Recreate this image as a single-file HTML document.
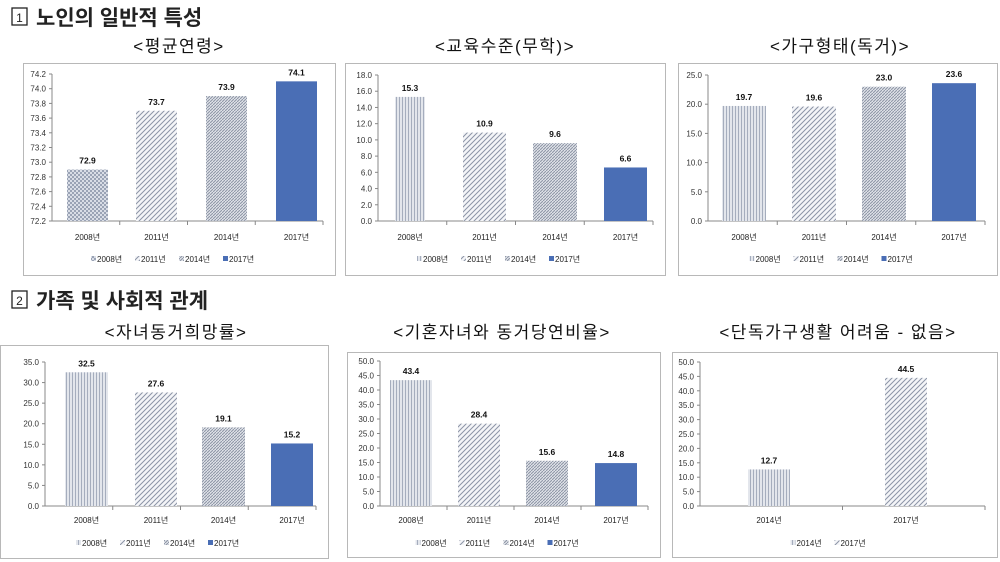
<!DOCTYPE html>
<html><head><meta charset="utf-8"><style>
body{margin:0;background:#fff;width:1000px;height:562px;overflow:hidden;font-family:"Liberation Sans","Noto Sans CJK KR",sans-serif}
svg{position:absolute;left:0;top:0}
</style></head><body>
<svg id="s" width="1000" height="562" xmlns="http://www.w3.org/2000/svg">
<defs>
<pattern id="p1" width="4" height="4" patternUnits="userSpaceOnUse"><rect width="4" height="4" fill="#d9dde6"/><rect width="2" height="2" fill="#9aa3b5"/><rect x="2" y="2" width="2" height="2" fill="#9aa3b5"/></pattern>
<pattern id="p2" width="5" height="5" patternUnits="userSpaceOnUse"><rect width="5" height="5" fill="#f4f5f8"/><path d="M-1,6 L6,-1 M-1,1 L1,-1 M4,6 L6,4" stroke="#8c94a6" stroke-width="1"/></pattern>
<pattern id="p3" width="3" height="3" patternUnits="userSpaceOnUse"><rect width="3" height="3" fill="#dfe2e8"/><path d="M0,3 L3,0" stroke="#8d95a5" stroke-width="1"/></pattern>
<pattern id="p4" width="3" height="3" patternUnits="userSpaceOnUse"><rect width="3" height="3" fill="#e3e6ec"/><rect width="1" height="3" fill="#a5adbd"/></pattern>
</defs>
<g id="g"></g>
</svg>
<script>
var g=document.getElementById('g'),h='';
function T(x,y,t,s,a,w,f,ls){h+='<text x="'+x+'" y="'+y+'" font-size="'+s+'" text-anchor="'+(a||'start')+'" font-weight="'+(w||'normal')+'" fill="'+(f||'#222')+'"'+(ls?' letter-spacing="'+ls+'"':'')+'>'+t+'</text>';}
h+='<rect x="12" y="8" width="15" height="17" fill="none" stroke="#222" stroke-width="1.3"/>';T(19.5,22,'1',12,'middle');
T(36,25,'노인의 일반적 특성',21,'start','bold');
h+='<rect x="12" y="291" width="15" height="17" fill="none" stroke="#222" stroke-width="1.3"/>';T(19.5,305,'2',12,'middle');
T(36,308,'가족 및 사회적 관계',21,'start','bold');
var P=[
{bx:23,by:63,bw:312,bh:212,ax:52,yt:74,yb:221,min:72.2,max:74.2,st:0.2,bars:[[67,108],[136,177],[206,247],[276,317]],v:[72.9,73.7,73.9,74.1],title:'&lt;평균연령&gt;',tx:179,ty:52,cy:240,ly:262,pat:['p1','p2','p3','b'],cat:['2008년','2011년','2014년','2017년']},
{bx:345,by:63,bw:320,bh:212,ax:378,yt:75,yb:221,min:0,max:18,st:2,bars:[[395,425],[463,506],[533,577],[604,647]],v:[15.3,10.9,9.6,6.6],title:'&lt;교육수준(무학)&gt;',tx:505,ty:52,cy:240,ly:262,pat:['p4','p2','p3','b'],cat:['2008년','2011년','2014년','2017년']},
{bx:678,by:63,bw:319,bh:212,ax:708,yt:75,yb:221,min:0,max:25,st:5,bars:[[722,766],[792,836],[862,906],[932,976]],v:[19.7,19.6,23.0,23.6],title:'&lt;가구형태(독거)&gt;',tx:840,ty:52,cy:240,ly:262,pat:['p4','p2','p3','b'],cat:['2008년','2011년','2014년','2017년']},
{bx:0,by:345,bw:328,bh:213,ax:45,yt:362,yb:506,min:0,max:35,st:5,bars:[[65,108],[135,177],[202,245],[271,313]],v:[32.5,27.6,19.1,15.2],title:'&lt;자녀동거희망률&gt;',tx:176,ty:338,cy:523,ly:546,pat:['p4','p2','p3','b'],cat:['2008년','2011년','2014년','2017년']},
{bx:347,by:352,bw:313,bh:205,ax:380,yt:361,yb:506,min:0,max:50,st:5,bars:[[390,432],[458,500],[526,568],[595,637]],v:[43.4,28.4,15.6,14.8],title:'&lt;기혼자녀와 동거당연비율&gt;',tx:502,ty:338,cy:523,ly:546,pat:['p4','p2','p3','b'],cat:['2008년','2011년','2014년','2017년']},
{bx:672,by:352,bw:325,bh:205,ax:700,yt:362,yb:506,min:0,max:50,st:5,bars:[[748,790],[885,927]],v:[12.7,44.5],title:'&lt;단독가구생활 어려움 - 없음&gt;',tx:838,ty:338,cy:523,ly:546,pat:['p4','p2'],cat:['2014년','2017년']}
];
P.forEach(function(p){
 h+='<rect x="'+p.bx+'.5" y="'+p.by+'.5" width="'+p.bw+'" height="'+p.bh+'" fill="#fff" stroke="#b8b8b8"/>';
 T(p.tx,p.ty,p.title,17,'middle','normal','#111',1.5);
 var n=Math.round((p.max-p.min)/p.st);
 function Y(v){return p.yb-(v-p.min)/(p.max-p.min)*(p.yb-p.yt);}
 for(var i=0;i<=n;i++){var v=p.min+i*p.st,y=Y(v);T(p.ax-6,y+3,v.toFixed(1),8,'end','normal','#333');h+='<line x1="'+(p.ax-3)+'" x2="'+p.ax+'" y1="'+y+'" y2="'+y+'" stroke="#888"/>';}
 var right=p.bx+p.bw-12;
 h+='<line x1="'+p.ax+'" x2="'+p.ax+'" y1="'+p.yt+'" y2="'+p.yb+'" stroke="#888"/>';
 h+='<line x1="'+p.ax+'" x2="'+right+'" y1="'+p.yb+'" y2="'+p.yb+'" stroke="#888"/>';
 var k=p.bars.length,cw=(right-p.ax)/k;
 for(var j=1;j<=k;j++){var x=p.ax+j*cw;h+='<line x1="'+x+'" x2="'+x+'" y1="'+p.yb+'" y2="'+(p.yb+4)+'" stroke="#888"/>';}
 p.bars.forEach(function(b,j){
  var y=Y(p.v[j]),f=p.pat[j]=='b'?'#4a6eb5':'url(#'+p.pat[j]+')';
  h+='<rect x="'+b[0]+'" y="'+y+'" width="'+(b[1]-b[0])+'" height="'+(p.yb-y)+'" fill="'+f+'"/>';
  T((b[0]+b[1])/2,y-6,p.v[j].toFixed(1),8.5,'middle','bold','#111');
  T((b[0]+b[1])/2,p.cy,p.cat[j],8,'middle','normal','#222');
 });
 var lw=k*44,lx=(p.bx+p.bw/2)-lw/2;
 p.bars.forEach(function(b,j){var x=lx+j*44,f=p.pat[j]=='b'?'#4a6eb5':'url(#'+p.pat[j]+')';
  h+='<rect x="'+x+'" y="'+(p.ly-6)+'" width="5" height="5" fill="'+f+'"/>';T(x+6,p.ly,p.cat[j],8,'start','normal','#222');});
});
g.innerHTML=h;
</script>
</body></html>
